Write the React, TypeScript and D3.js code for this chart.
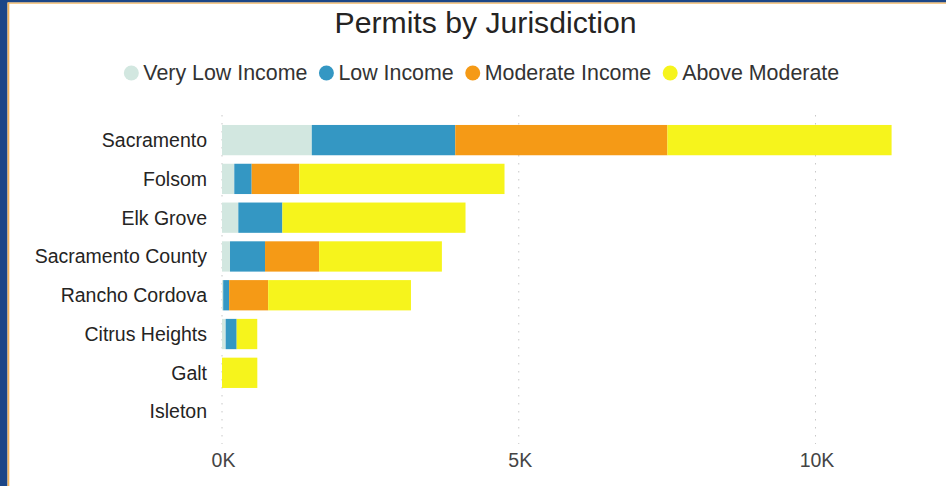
import React, { useMemo } from "react";
import * as d3 from "d3";

const categories = [
  "Sacramento",
  "Folsom",
  "Elk Grove",
  "Sacramento County",
  "Rancho Cordova",
  "Citrus Heights",
  "Galt",
  "Isleton",
];

const seriesNames = ["Very Low Income", "Low Income", "Moderate Income", "Above Moderate"];
const seriesKeys = ["veryLow", "low", "moderate", "aboveModerate"];
const seriesColors = ["#d2e7e0", "#3497c3", "#f59a16", "#f6f41c"];

const veryLow = [1513, 207, 275, 135, 20, 62, 0, 0];
const low = [2417, 293, 742, 590, 100, 185, 0, 0];
const moderate = [3575, 803, 0, 911, 658, 0, 0, 0];
const aboveModerate = [3777, 3457, 3086, 2069, 2406, 347, 595, 0];

const xTicks = [0, 5000, 10000];
const titleText = "Permits by Jurisdiction";

const FONT = "'Liberation Sans', Arial, sans-serif";

function measure(text: string, size: number): number {
  const c = document.createElement("canvas");
  const ctx = c.getContext("2d");
  if (!ctx) return text.length * size * 0.5;
  ctx.font = `${size}px 'Liberation Sans', Arial, sans-serif`;
  return ctx.measureText(text).width;
}

export default function App() {
  const W = 946;
  const H = 486;

  const rows = categories.map((c, i) => ({
    category: c,
    veryLow: veryLow[i],
    low: low[i],
    moderate: moderate[i],
    aboveModerate: aboveModerate[i],
  }));

  const stacked = d3.stack<any>().keys(seriesKeys)(rows);

  const x = d3.scaleLinear().domain([0, 10000]).range([222, 815.5]);
  const y = d3
    .scaleBand<string>()
    .domain(categories)
    .range([120.7, 431])
    .paddingInner(0.219)
    .paddingOuter(0.11);

  const legendSize = 21.4;
  const legendLayout = useMemo(() => {
    const items: { cx: number; tx: number; w: number }[] = [];
    let cur = 0;
    seriesNames.forEach((n) => {
      const w = measure(n, legendSize);
      const cx = cur + 7.5;
      const tx = cx + 12;
      items.push({ cx, tx, w });
      cur = tx + w + 19 - 7.5;
    });
    const total = items[items.length - 1].tx + items[items.length - 1].w;
    const offset = 481.5 - total / 2;
    return items.map((it) => ({ ...it, cx: it.cx + offset, tx: it.tx + offset }));
  }, []);

  return (
    <div style={{ position: "fixed", left: 0, top: 0, width: W, height: H }}>
      <svg width={W} height={H} style={{ display: "block", fontFamily: FONT }}>
        <rect x={0} y={0} width={W} height={H} fill="#ffffff" />
        {/* frame */}
        <rect x={0} y={0} width={W} height={2.5} fill="#1c4687" />
        <rect x={8} y={2.5} width={W - 8} height={1.2} fill="#f2b45c" />
        <rect x={0} y={0} width={7.5} height={H} fill="#1c4687" />
        <rect x={7.5} y={2.5} width={1.8} height={H - 2.5} fill="#f2b45c" />

        {/* title */}
        <text x={485.5} y={33} textAnchor="middle" fontSize={30.2} fill="#252423">
          {titleText}
        </text>

        {/* legend */}
        {seriesNames.map((n, i) => (
          <g key={n}>
            <circle cx={legendLayout[i].cx} cy={73} r={7.5} fill={seriesColors[i]} />
            <text x={legendLayout[i].tx} y={80} fontSize={legendSize} fill="#333333">
              {n}
            </text>
          </g>
        ))}

        {/* gridlines */}
        {xTicks.map((t) => (
          <line
            key={t}
            x1={x(t)}
            x2={x(t)}
            y1={115}
            y2={444}
            stroke="#c8c8c8"
            strokeWidth={1}
            strokeDasharray="1.5,6.5"
          />
        ))}

        {/* bars */}
        {stacked.map((layer, si) => (
          <g key={layer.key} fill={seriesColors[si]}>
            {layer.map((d, i) => {
              const w = x(d[1]) - x(d[0]);
              if (w <= 0) return null;
              return (
                <rect
                  key={i}
                  x={x(d[0])}
                  y={y(categories[i])}
                  width={w}
                  height={y.bandwidth()}
                />
              );
            })}
          </g>
        ))}

        {/* category labels */}
        {categories.map((c) => (
          <text
            key={c}
            x={207}
            y={(y(c) as number) + y.bandwidth() / 2}
            dy="0.35em"
            textAnchor="end"
            fontSize={19.5}
            fill="#252423"
          >
            {c}
          </text>
        ))}

        {/* x tick labels */}
        {xTicks.map((t) => (
          <text key={t} x={x(t) + 1.5} y={467} textAnchor="middle" fontSize={19.5} fill="#444444">
            {`${t / 1000}K`}
          </text>
        ))}
      </svg>
    </div>
  );
}
